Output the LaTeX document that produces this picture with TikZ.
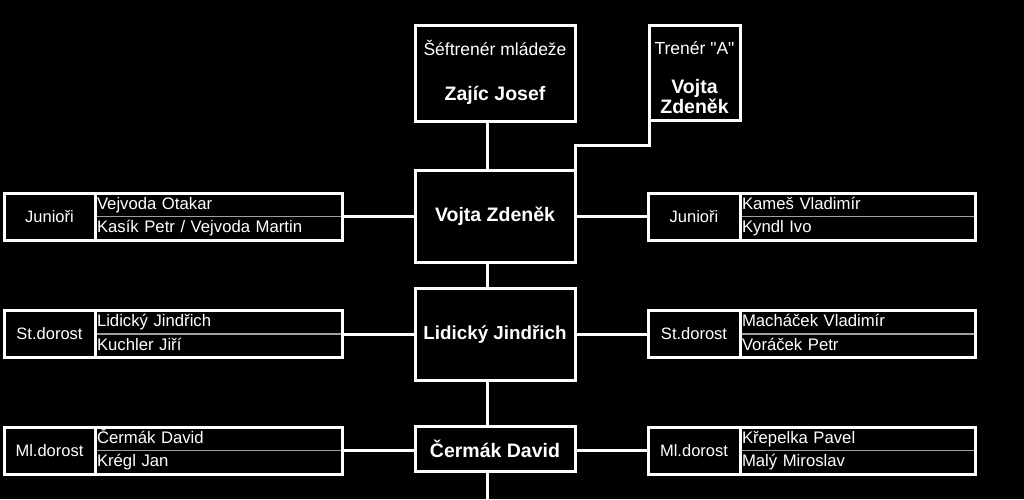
\documentclass[tikz,border=0pt]{standalone}
\usepackage{fontspec}
\setmainfont{Liberation Sans}[Ligatures=TeXOff]
\usetikzlibrary{positioning}

\begin{document}
\begin{tikzpicture}[x=1pt,y=-1pt,
    every node/.style={text=white, outer sep=0pt},
    conn/.style={draw=white, line width=3pt},
    mainbox/.style={draw=white, line width=3pt, minimum width=160pt, font=\fontsize{19.5}{23}\selectfont\bfseries},
    toptxt/.style={font=\fontsize{17.5}{20}\selectfont},
    lab/.style={minimum height=47pt, inner sep=0pt, font=\fontsize{16.5}{19}\selectfont},
    nm/.style={draw=gray!75, line width=1.5pt, minimum height=23.5pt, inner xsep=2pt, inner ysep=0pt,
      text height=12pt, text depth=3.5pt, align=left, anchor=north west, font=\fontsize{16.7}{19}\selectfont},
    grpframe/.style={draw=white, line width=3pt}]
    \path[use as bounding box] (0,0) rectangle (1024,499);
    \fill[black] (0,0) rectangle (1024,499);
    % Head coaches
    \node[mainbox, minimum height=96pt] (zajic) at (495,73) {};
    \node[toptxt] (zajiclab) at (495,48) {Šéftrenér mládeže};
    \node[font=\fontsize{19.5}{23}\selectfont\bfseries] (zajicname) at (495,95) {Zajíc Josef};
    \node[mainbox, minimum width=91pt, minimum height=95pt] (trener) at (694.5,72.5) {};
    \node[toptxt] (trenerlab) at (694.5,48) {Trenér "A"};
    \node[font=\fontsize{19.5}{20}\selectfont\bfseries, align=center] (trenername) at (694.5,97) {Vojta\\Zdeněk};
    % Main column
    \node[mainbox, minimum height=92pt] (vojta) at (495,216) {Vojta Zdeněk};
    \node[mainbox, minimum height=92pt, font=\fontsize{18.8}{23}\selectfont\bfseries] (lidicky) at (495,334) {Lidický Jindřich};
    \node[mainbox, minimum height=45pt] (cermak) at (495,449) {Čermák David};
    \coordinate (bend) at (575,145);
    \coordinate (bottom) at (487,499);
    \draw[conn] ([xshift=-8pt]zajic.south) -- ([xshift=-8pt]vojta.north);
    \draw[conn] (trener.south west) |- (bend) -- (vojta.north east);
    \draw[conn] ([xshift=-8pt]vojta.south) -- ([xshift=-8pt]lidicky.north);
    \draw[conn] ([xshift=-8pt]lidicky.south) -- ([xshift=-8pt]cermak.north);
    \draw[conn] ([xshift=-8pt]cermak.south) -- (bottom);
    % Left groups
    \node[lab, minimum width=91pt] (jl) at (49.5,216.5) {Junioři};
    \node[nm, text width=243pt] (jn1) at (jl.north east) {Vejvoda Otakar};
    \node[nm, text width=243pt] (jn2) at (jn1.south west) {Kasík Petr / Vejvoda Martin};
    \node[lab, minimum width=91pt] (sl) at (49.5,334) {St.dorost};
    \node[nm, text width=243pt] (sn1) at (sl.north east) {Lidický Jindřich};
    \node[nm, text width=243pt] (sn2) at (sn1.south west) {Kuchler Jiří};
    \node[lab, minimum width=91pt] (ml) at (49.5,450.5) {Ml.dorost};
    \node[nm, text width=243pt] (mn1) at (ml.north east) {Čermák David};
    \node[nm, text width=243pt] (mn2) at (mn1.south west) {Krégl Jan};
    % Right groups
    \node[lab, minimum width=92pt] (rjl) at (694,216.5) {Junioři};
    \node[nm, text width=231pt] (rjn1) at (rjl.north east) {Kameš Vladimír};
    \node[nm, text width=231pt] (rjn2) at (rjn1.south west) {Kyndl Ivo};
    \node[lab, minimum width=92pt] (rsl) at (694,334) {St.dorost};
    \node[nm, text width=231pt] (rsn1) at (rsl.north east) {Macháček Vladimír};
    \node[nm, text width=231pt] (rsn2) at (rsn1.south west) {Voráček Petr};
    \node[lab, minimum width=92pt] (rml) at (694,450.5) {Ml.dorost};
    \node[nm, text width=231pt] (rmn1) at (rml.north east) {Křepelka Pavel};
    \node[nm, text width=231pt] (rmn2) at (rmn1.south west) {Malý Miroslav};
    % Group frames
    \draw[grpframe] (jl.north west) rectangle (jn2.south east) (jl.north east) -- (jl.south east);
    \draw[grpframe] (sl.north west) rectangle (sn2.south east) (sl.north east) -- (sl.south east);
    \draw[grpframe] (ml.north west) rectangle (mn2.south east) (ml.north east) -- (ml.south east);
    \draw[grpframe] (rjl.north west) rectangle (rjn2.south east) (rjl.north east) -- (rjl.south east);
    \draw[grpframe] (rsl.north west) rectangle (rsn2.south east) (rsl.north east) -- (rsl.south east);
    \draw[grpframe] (rml.north west) rectangle (rmn2.south east) (rml.north east) -- (rml.south east);
    % Group links
    \draw[conn] (jn1.south east) -- (vojta.west |- jn1.south east);
    \draw[conn] (sn1.south east) -- (lidicky.west |- sn1.south east);
    \draw[conn] (mn1.south east) -- (cermak.west |- mn1.south east);
    \draw[conn] (vojta.east |- rjl.west) -- (rjl.west);
    \draw[conn] (lidicky.east |- rsl.west) -- (rsl.west);
    \draw[conn] (cermak.east |- rml.west) -- (rml.west);
  \end{tikzpicture}
\end{document}
